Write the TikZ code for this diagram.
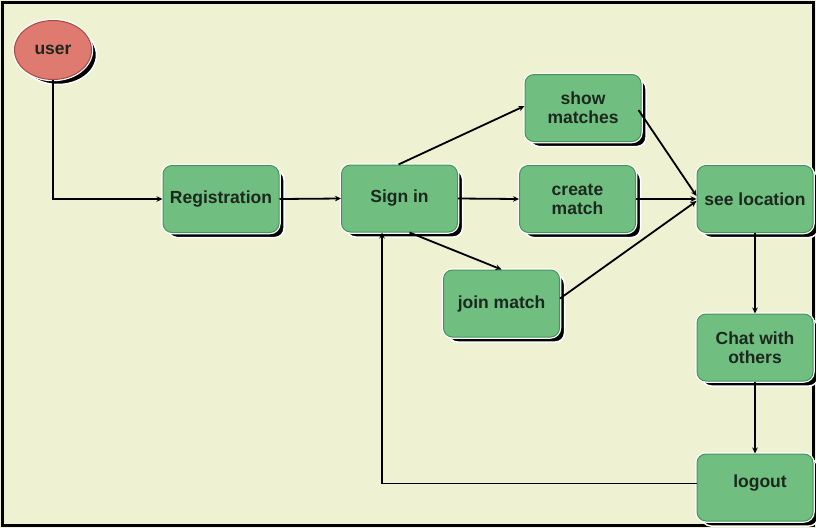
\documentclass[tikz,border=0pt]{standalone}
\usepackage{fontspec}
\setmainfont{Liberation Sans}
\usetikzlibrary{shapes.geometric,arrows.meta}
\definecolor{bgc}{RGB}{238,242,210}
\definecolor{boxfill}{RGB}{112,190,128}
\definecolor{boxline}{RGB}{70,148,92}
\definecolor{userfill}{RGB}{222,122,112}
\definecolor{userline}{RGB}{170,72,66}
\definecolor{txt}{RGB}{28,40,30}
\begin{document}
\begin{tikzpicture}[x=1pt,y=-1pt,
  every node/.style={font=\fontsize{17.5}{19}\selectfont\bfseries, text=txt, align=center},
  procbox/.style={rectangle, rounded corners=9pt, minimum width=116pt, minimum height=67pt,
    fill=boxfill, draw=boxline, line width=1pt,
    preaction={fill=black, draw=white, line width=1.5pt, transform canvas={xshift=5pt,yshift=-5pt}},
    preaction={draw=white, line width=3.5pt}},
  startnode/.style={ellipse, minimum width=77pt, minimum height=59pt, inner sep=0pt,
    fill=userfill, draw=userline, line width=1pt,
    preaction={fill=black, draw=white, line width=1.5pt, transform canvas={xshift=5pt,yshift=-5pt}},
    preaction={draw=white, line width=3.5pt}},
  conn/.style={draw=black, line width=1.8pt, -{Stealth[length=6pt,width=5.5pt]}}
]
\useasboundingbox (0,0) rectangle (816,528);
\fill[bgc] (0,0) rectangle (816,528);
\draw[black, line width=3pt] (2.5,2.5) rectangle (813.5,525.5);

\node[startnode] (user) at (53,50) {user};
\node[procbox] (reg) at (221,199) {Registration};
\node[procbox] (sign) at (399.5,198.5) {Sign in};
\node[procbox] (show) at (583,108) {show\\matches};
\node[procbox] (create) at (577.5,199) {create\\match};
\node[procbox] (see) at (755,199) {see location};
\node[procbox] (join) at (501.5,303.5) {join match};
\node[procbox] (chat) at (755,347.5) {Chat with\\others};
\node[procbox] (logout) at (755,487.5) {\hspace*{10pt}logout\\[-6pt]\mbox{}};

\draw[conn] (user.south) |- (reg.west);
\draw[conn] (reg.east) -- (sign.west);
\draw[conn] ([xshift=-1pt]sign.north) -- ([yshift=2pt]show.west);
\draw[conn] (sign.east) -- (create.west);
\draw[conn] ([xshift=10pt]sign.south) -- (join.north);
\draw[conn] ([xshift=-3pt,yshift=-2pt]show.east) -- ([yshift=3pt]see.west);
\draw[conn] (create.east) -- (see.west);
\draw[conn] ([yshift=5pt]join.east) -- ([yshift=-2pt]see.west);
\draw[conn] (see.south) -- (chat.north);
\draw[conn] (chat.south) -- (logout.north);
\draw[conn] ([yshift=4pt]logout.west) -| ([xshift=-17.5pt]sign.south);
\end{tikzpicture}
\end{document}
